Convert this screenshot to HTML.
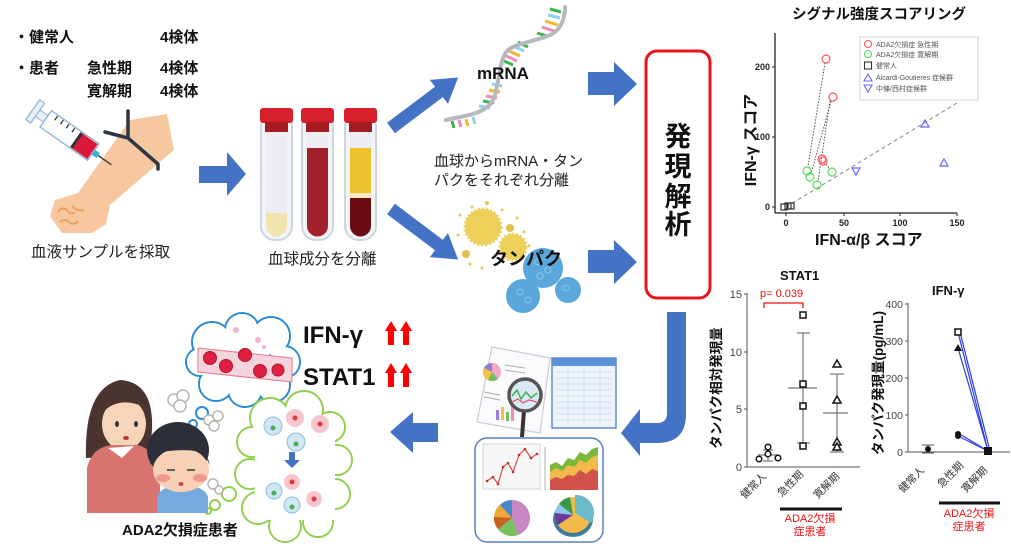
<!DOCTYPE html>
<html><head><meta charset="utf-8">
<style>
html,body{margin:0;padding:0;background:#fff;}
svg{display:block;}
text{font-family:"Liberation Sans","Noto Sans CJK JP",sans-serif;}
.b{font-weight:bold;}
</style></head>
<body>
<svg width="1011" height="549" viewBox="0 0 1011 549" xmlns="http://www.w3.org/2000/svg">
<rect width="1011" height="549" fill="#fff"/>

<!-- top-left text -->
<g class="b" font-size="15" fill="#111" font-weight="bold">
<text x="14" y="42">・健常人</text><text x="160" y="42">4検体</text>
<text x="14" y="73">・患者</text><text x="87" y="73">急性期</text><text x="160" y="73">4検体</text>
<text x="87" y="96">寛解期</text><text x="160" y="96">4検体</text>
</g>

<!-- arm -->
<polygon points="130,120 167,114 174,150 110,205 106,224 92,233 62,233 50,216 55,200 78,193" fill="#f7c7a0"/>
<path d="M58,212 q4,-6 9,-2 q3,6 8,2 M60,222 q5,-4 9,0 q4,4 9,-1 M72,206 q6,6 12,4" stroke="#e9a25e" stroke-width="2" fill="none"/>
<path d="M128,111 V138 M105,132 L128,138 L158,164 V169" stroke="#2d3644" stroke-width="3.5" fill="none" stroke-linecap="round"/>
<!-- syringe -->
<g transform="translate(36,112) rotate(35)">
<rect x="-4" y="-12" width="6" height="24" fill="#e8f0f8" stroke="#8fb3d6" stroke-width="1.2"/>
<rect x="2" y="-4" width="10" height="8" fill="#e8f0f8" stroke="#8fb3d6" stroke-width="1"/>
<rect x="12" y="-10" width="58" height="20" fill="#fbfdff" stroke="#8fb3d6" stroke-width="1.3"/>
<rect x="50" y="-9" width="19" height="18" fill="#d9183a"/>
<rect x="48" y="-9" width="3" height="18" fill="#333"/>
<g stroke="#333" stroke-width="1.3"><line x1="20" y1="-9" x2="20" y2="-4"/><line x1="27" y1="-9" x2="27" y2="-4"/><line x1="34" y1="-9" x2="34" y2="-4"/><line x1="41" y1="-9" x2="41" y2="-4"/></g>
<rect x="70" y="-3" width="6" height="6" fill="#3ab0d8"/>
<line x1="76" y1="0" x2="92" y2="0" stroke="#333" stroke-width="1.3"/>
</g>
<text x="31" y="257" font-size="15.5" fill="#222">血液サンプルを採取</text>

<!-- blue arrows -->
<g fill="#4472c4">
<polygon points="199,166 227,166 227,152 246,174 227,196 227,183 199,183"/>
<polygon points="588,72 614,72 614,62 637,84 614,106 614,95 588,95"/>
<polygon points="588,250 614,250 614,240 637,262 614,284 614,273 588,273"/>
<g transform="translate(391,128) rotate(-37)"><polygon points="0,-6.5 60,-6.5 60,-15 84,0 60,15 60,6.5 0,6.5"/></g>
<g transform="translate(391,209) rotate(37)"><polygon points="0,-6.5 60,-6.5 60,-15 84,0 60,15 60,6.5 0,6.5"/></g>
<polygon points="438,423 413,423 413,412 390,432 413,453 413,442 438,442"/>
<path d="M667,312 H686 V414 Q686,443 657,443 H640 V456 L621,433 L640,409 V423 H657 Q667,423 667,413 Z"/>
</g>

<!-- tubes -->
<g>
<rect x="261" y="112" width="31" height="128" rx="14" fill="#f3f4f8" stroke="#cfd5dc" stroke-width="2"/>
<rect x="266" y="120" width="21" height="116" rx="10" fill="#ececf2"/>
<path d="M266,213 H287 V226 a10.5,10.5 0 0 1 -21,0 Z" fill="#f2e4b0"/>
<rect x="260" y="108" width="33" height="15" rx="3" fill="#d81f2c"/>
<rect x="265" y="122" width="23" height="10" fill="#a51b22"/>

<rect x="302" y="112" width="31" height="128" rx="14" fill="#f3f4f8" stroke="#cfd5dc" stroke-width="2"/>
<rect x="307" y="120" width="21" height="116" rx="10" fill="#ececf2"/>
<path d="M307,148 H328 V226 a10.5,10.5 0 0 1 -21,0 Z" fill="#a3202a"/>
<rect x="301" y="108" width="33" height="15" rx="3" fill="#d81f2c"/>
<rect x="306" y="122" width="23" height="10" fill="#a51b22"/>

<rect x="345" y="112" width="31" height="128" rx="14" fill="#f3f4f8" stroke="#cfd5dc" stroke-width="2"/>
<rect x="350" y="120" width="21" height="116" rx="10" fill="#ececf2"/>
<rect x="350" y="148" width="21" height="45" fill="#ebc22e"/>
<rect x="350" y="193" width="21" height="5" fill="#f7ebc4"/>
<path d="M350,198 H371 V226 a10.5,10.5 0 0 1 -21,0 Z" fill="#6b0c12"/>
<rect x="344" y="108" width="33" height="15" rx="3" fill="#d81f2c"/>
<rect x="349" y="122" width="23" height="10" fill="#a51b22"/>
</g>
<text x="268" y="264" font-size="15.5" fill="#222">血球成分を分離</text>

<!-- mRNA helix -->
<g stroke-width="3" stroke-linecap="butt">
<line x1="550" y1="9" x2="561" y2="12" stroke="#3bb54a"/>
<line x1="548" y1="15" x2="560" y2="18" stroke="#8dd3f0"/>
<line x1="545" y1="21" x2="558" y2="25" stroke="#f5b731"/>
<line x1="542" y1="27" x2="554" y2="31" stroke="#f08cb5"/>
<line x1="537" y1="33" x2="547" y2="36" stroke="#3bb54a"/>
<line x1="518" y1="42" x2="528" y2="47" stroke="#3bb54a"/>
<line x1="513" y1="46" x2="524" y2="51" stroke="#8dd3f0"/>
<line x1="509" y1="51" x2="520" y2="56" stroke="#f5b731"/>
<line x1="506" y1="56" x2="517" y2="61" stroke="#f08cb5"/>
<line x1="504" y1="61" x2="513" y2="65" stroke="#3bb54a"/>
<line x1="492" y1="84" x2="502" y2="86" stroke="#8dd3f0"/>
<line x1="489" y1="90" x2="500" y2="92" stroke="#f5b731"/>
<line x1="486" y1="96" x2="497" y2="98" stroke="#f08cb5"/>
<line x1="483" y1="101" x2="494" y2="103" stroke="#3bb54a"/>
<line x1="479" y1="106" x2="490" y2="108" stroke="#8dd3f0"/>
<line x1="452" y1="121" x2="454" y2="128" stroke="#3bb54a"/>
<line x1="459" y1="120" x2="461" y2="127" stroke="#f08cb5"/>
<line x1="466" y1="119" x2="468" y2="126" stroke="#f5b731"/>
<line x1="473" y1="117" x2="475" y2="124" stroke="#8dd3f0"/>
</g>
<path d="M446,120 C462,116 485,115 493,100 C500,85 498,60 508,50 C518,42 545,40 555,32 C563,25 565,15 565,7" stroke="#b5b8bd" stroke-width="4" fill="none" stroke-linecap="round"/>
<text x="477" y="79" font-size="17" class="b" fill="#111">mRNA</text>
<text x="434" y="166" font-size="15" fill="#222">血球からmRNA・タン</text>
<text x="434" y="185" font-size="15" fill="#222">パクをそれぞれ分離</text>

<!-- protein -->
<g>
<circle cx="483" cy="227" r="18" fill="#ecd05a" stroke="#ecd05a" stroke-width="3" stroke-dasharray="2 2"/>
<circle cx="513" cy="247" r="13" fill="#ecd05a" stroke="#ecd05a" stroke-width="3" stroke-dasharray="2 2"/>
<circle cx="510" cy="228" r="4" fill="#e0c24a"/>
<circle cx="466" cy="254" r="4" fill="#e0c24a"/>
<g fill="#e5c75a"><circle cx="460" cy="215" r="1.5"/><circle cx="472" cy="207" r="1.5"/><circle cx="487" cy="203" r="2"/><circle cx="502" cy="210" r="1.5"/><circle cx="517" cy="218" r="1.5"/><circle cx="524" cy="232" r="1.5"/><circle cx="458" cy="235" r="1.5"/><circle cx="470" cy="264" r="1.5"/><circle cx="482" cy="268" r="1.5"/><circle cx="496" cy="264" r="1.5"/><circle cx="529" cy="246" r="1.5"/></g>
<circle cx="543" cy="268" r="20" fill="#5aa7dc"/>
<circle cx="523" cy="296" r="17" fill="#5aa7dc"/>
<circle cx="568" cy="290" r="13" fill="#5aa7dc"/>
<g fill="none" stroke="#8cc6ea" stroke-width="1"><circle cx="538" cy="262" r="3"/><circle cx="548" cy="270" r="3"/><circle cx="540" cy="276" r="3"/><circle cx="520" cy="292" r="3"/><circle cx="528" cy="300" r="3"/><circle cx="566" cy="288" r="3"/></g>
</g>
<text x="490" y="265" font-size="18" class="b" fill="#111">タンパク</text>

<!-- red box -->
<rect x="646" y="51" width="64" height="247" rx="11" fill="#fff" stroke="#e8141c" stroke-width="3"/>
<g font-size="27" class="b" fill="#111" text-anchor="middle">
<text x="678" y="146">発</text><text x="678" y="176">現</text><text x="678" y="206">解</text><text x="678" y="234">析</text>
</g>

<!-- scatter chart -->
<text x="792" y="19" font-size="14.5" class="b" fill="#111">シグナル強度スコアリング</text>
<g stroke="#222" stroke-width="1.3"><line x1="775" y1="33" x2="775" y2="213"/><line x1="775" y1="213" x2="957" y2="213"/></g>
<g stroke="#222" stroke-width="1"><line x1="772" y1="207" x2="775" y2="207"/><line x1="772" y1="137" x2="775" y2="137"/><line x1="772" y1="67" x2="775" y2="67"/><line x1="786" y1="213" x2="786" y2="216"/><line x1="844" y1="213" x2="844" y2="216"/><line x1="900" y1="213" x2="900" y2="216"/><line x1="957" y1="213" x2="957" y2="216"/></g>
<g font-size="9" fill="#222" class="b" text-anchor="end"><text x="770" y="210">0</text><text x="770" y="140">100</text><text x="770" y="70">200</text></g>
<g font-size="9" fill="#222" class="b" text-anchor="middle"><text x="786" y="226">0</text><text x="844" y="226">50</text><text x="900" y="226">100</text><text x="957" y="226">150</text></g>
<text x="815" y="245" font-size="16" class="b" fill="#111">IFN-α/β スコア</text>
<text transform="translate(756,140) rotate(-90)" text-anchor="middle" font-size="16" class="b" fill="#111">IFN-γ スコア</text>
<line x1="786" y1="207" x2="957" y2="103" stroke="#999" stroke-width="1.2" stroke-dasharray="4 3"/>
<g stroke="#444" stroke-width="0.9" stroke-dasharray="1.5 1.5" fill="none">
<line x1="825" y1="63" x2="808" y2="166"/><line x1="831" y1="101" x2="811" y2="174"/><line x1="830" y1="101" x2="818" y2="182"/><line x1="824" y1="162" x2="830" y2="169"/>
</g>
<g fill="none" stroke-width="1.2">
<circle cx="826" cy="59" r="4" stroke="#f55"/><circle cx="833" cy="97" r="4" stroke="#f55"/><circle cx="822" cy="159" r="4" stroke="#f55"/><circle cx="823" cy="161" r="4" stroke="#f55"/>
<circle cx="807" cy="171" r="4" stroke="#5d5"/><circle cx="810" cy="177" r="4" stroke="#5d5"/><circle cx="817" cy="185" r="4" stroke="#5d5"/><circle cx="832" cy="172" r="4" stroke="#5d5"/>
<rect x="781" y="204" width="6" height="6" stroke="#333"/><rect x="785" y="203" width="6" height="6" stroke="#333"/><rect x="788" y="203" width="6" height="6" stroke="#333"/>
<polygon points="925,120 929,127 921,127" stroke="#66f"/><polygon points="944,159 948,166 940,166" stroke="#66f"/><polygon points="856,175 860,168 852,168" stroke="#66f"/>
</g>
<rect x="860" y="37" width="118" height="63" fill="#fff" stroke="#ccc" stroke-width="0.8"/>
<g fill="none" stroke-width="1.1">
<circle cx="868" cy="44" r="3.5" stroke="#f55"/><circle cx="868" cy="54" r="3.5" stroke="#5d5"/><rect x="864.5" y="62" width="7" height="7" stroke="#333"/>
<polygon points="868,74 872,81 864,81" stroke="#66f"/><polygon points="868,92 872,85 864,85" stroke="#66f"/>
</g>
<g font-size="7" fill="#555"><text x="876" y="47">ADA2欠損症 急性期</text><text x="876" y="57">ADA2欠損症 寛解期</text><text x="876" y="68">健常人</text><text x="876" y="80">Aicardi-Goutieres 症候群</text><text x="876" y="91">中條/西村症候群</text></g>

<!-- STAT1 chart -->
<text x="780" y="280" font-size="13" class="b" fill="#111">STAT1</text>
<g stroke="#555" stroke-width="1"><line x1="747" y1="293" x2="747" y2="467"/><line x1="747" y1="467" x2="860" y2="467"/><line x1="744" y1="294" x2="747" y2="294"/><line x1="744" y1="352" x2="747" y2="352"/><line x1="744" y1="409" x2="747" y2="409"/><line x1="744" y1="467" x2="747" y2="467"/></g>
<g font-size="11" fill="#444" text-anchor="end"><text x="742" y="298">15</text><text x="742" y="356">10</text><text x="742" y="413">5</text><text x="742" y="471">0</text></g>
<text transform="translate(721,388) rotate(-90)" text-anchor="middle" font-size="13.5" class="b" fill="#111">タンパク相対発現量</text>
<text x="760" y="297" font-size="11" fill="#e11">p= 0.039</text>
<path d="M764,308 V303 H803 V308" stroke="#e11" stroke-width="1.3" fill="none"/>
<g stroke="#777" stroke-width="1.2" fill="none">
<line x1="758" y1="455" x2="778" y2="455"/><line x1="768" y1="450" x2="768" y2="461"/><line x1="763" y1="450" x2="773" y2="450"/><line x1="763" y1="461" x2="773" y2="461"/>
<line x1="788" y1="388" x2="817" y2="388"/><line x1="803" y1="333" x2="803" y2="443"/><line x1="797" y1="333" x2="810" y2="333"/><line x1="797" y1="443" x2="810" y2="443"/>
<line x1="823" y1="413" x2="848" y2="413"/><line x1="837" y1="374" x2="837" y2="452"/><line x1="830" y1="374" x2="844" y2="374"/><line x1="830" y1="452" x2="844" y2="452"/>
</g>
<g fill="#fff" stroke="#111" stroke-width="1.5">
<circle cx="759" cy="459" r="2.8"/><circle cx="768" cy="447" r="2.8"/><circle cx="768" cy="454" r="2.8"/><circle cx="778" cy="458" r="2.8"/>
<rect x="800" y="312" width="6" height="6"/><rect x="800" y="381" width="6" height="6"/><rect x="800" y="403" width="6" height="6"/><rect x="800" y="443" width="6" height="6"/>
<polygon points="837,360 841,367 833,367"/><polygon points="837,396 841,403 833,403"/><polygon points="837,438 841,445 833,445"/><polygon points="837,443 841,450 833,450"/>
</g>
<g font-size="10.5" fill="#333" text-anchor="end">
<text transform="translate(767,477) rotate(-45)">健常人</text>
<text transform="translate(804,475) rotate(-45)">急性期</text>
<text transform="translate(840,477) rotate(-45)">寛解期</text>
</g>
<line x1="780" y1="509" x2="842" y2="509" stroke="#111" stroke-width="3"/>
<g font-size="11" fill="#e11" text-anchor="middle"><text x="810" y="522">ADA2欠損</text><text x="810" y="535">症患者</text></g>

<!-- IFN-g chart -->
<text x="932" y="295" font-size="13" class="b" fill="#111">IFN-γ</text>
<g stroke="#555" stroke-width="1"><line x1="908" y1="303" x2="908" y2="452"/><line x1="908" y1="452" x2="1010" y2="452"/><line x1="905" y1="304" x2="908" y2="304"/><line x1="905" y1="341" x2="908" y2="341"/><line x1="905" y1="378" x2="908" y2="378"/><line x1="905" y1="415" x2="908" y2="415"/><line x1="905" y1="452" x2="908" y2="452"/></g>
<g font-size="10.5" fill="#444" text-anchor="end"><text x="903" y="308">400</text><text x="903" y="345">300</text><text x="903" y="382">200</text><text x="903" y="419">100</text><text x="903" y="456">0</text></g>
<text transform="translate(883,383) rotate(-90)" text-anchor="middle" font-size="13.5" class="b" fill="#111">タンパク発現量(pg/mL)</text>
<g stroke="#555" stroke-width="1"><line x1="928" y1="445" x2="928" y2="453"/><line x1="922" y1="445" x2="934" y2="445"/><line x1="922" y1="453" x2="934" y2="453"/></g>
<circle cx="928" cy="449" r="3" fill="#111"/>
<g stroke="#2a3ee0" stroke-width="1.2"><line x1="958" y1="332" x2="988" y2="451"/><line x1="958" y1="348" x2="988" y2="451"/><line x1="958" y1="433" x2="988" y2="451"/><line x1="958" y1="436" x2="988" y2="451"/><line x1="960" y1="332" x2="990" y2="451"/></g>
<rect x="955" y="329" width="6" height="6" fill="#fff" stroke="#111" stroke-width="1.5"/>
<polygon points="958,344 962,351 954,351" fill="#111"/>
<circle cx="958" cy="434" r="3" fill="#111"/><circle cx="958" cy="436" r="3" fill="#111"/>
<rect x="984" y="447" width="8" height="8" fill="#111"/>
<g font-size="10.5" fill="#333" text-anchor="end">
<text transform="translate(925,471) rotate(-45)">健常人</text>
<text transform="translate(964,466) rotate(-45)">急性期</text>
<text transform="translate(988,471) rotate(-45)">寛解期</text>
</g>
<line x1="939" y1="503" x2="1000" y2="503" stroke="#111" stroke-width="3"/>
<g font-size="11" fill="#e11" text-anchor="middle"><text x="969" y="517">ADA2欠損</text><text x="969" y="530">症患者</text></g>

<!-- documents illustration -->
<polygon points="492,347 550,358 540,433 477,422" fill="#fbfbfd" stroke="#c8ccd4" stroke-width="1.2"/>
<g transform="translate(492,372)"><circle r="9" fill="#f2a6c8"/><path d="M0,0 L0,-9 A9,9 0 0 0 -8,-4 Z" fill="#8b7fd0"/><path d="M0,0 L-8,-4 A9,9 0 0 0 -4,8 Z" fill="#f5c242"/><path d="M0,0 L-4,8 A9,9 0 0 0 6,7 Z" fill="#72c05a"/></g>
<g stroke="#aaa" stroke-width="1"><line x1="505" y1="365" x2="525" y2="368"/><line x1="505" y1="370" x2="525" y2="373"/><line x1="484" y1="392" x2="500" y2="395"/><line x1="484" y1="397" x2="500" y2="400"/></g>
<g><rect x="496" y="410" width="3" height="10" fill="#9b7fd6"/><rect x="501" y="407" width="3" height="13" fill="#f5c242"/><rect x="506" y="412" width="3" height="9" fill="#72c05a"/><rect x="511" y="404" width="3" height="17" fill="#f28bb8"/></g>
<rect x="552" y="358" width="64" height="70" fill="#eef4fb" stroke="#5b8fd6" stroke-width="1.5"/>
<rect x="552" y="358" width="64" height="8" fill="#5b8fd6"/>
<g stroke="#c6d6ea" stroke-width="0.8">
<line x1="556" y1="372" x2="612" y2="372"/><line x1="556" y1="378" x2="612" y2="378"/><line x1="556" y1="384" x2="612" y2="384"/><line x1="556" y1="390" x2="612" y2="390"/><line x1="556" y1="396" x2="612" y2="396"/><line x1="556" y1="402" x2="612" y2="402"/><line x1="556" y1="408" x2="612" y2="408"/><line x1="556" y1="414" x2="612" y2="414"/><line x1="556" y1="420" x2="612" y2="420"/>
<line x1="568" y1="368" x2="568" y2="424"/><line x1="584" y1="368" x2="584" y2="424"/><line x1="600" y1="368" x2="600" y2="424"/>
</g>
<line x1="524" y1="410" x2="522" y2="437" stroke="#333" stroke-width="4"/>
<circle cx="525" cy="395" r="16" fill="#dbe9f7" stroke="#555" stroke-width="3.5"/>
<polyline points="512,396 517,390 521,399 526,392 531,398 537,393" stroke="#3bb54a" stroke-width="1.5" fill="none"/>
<polyline points="512,402 518,399 523,403 529,400 537,402" stroke="#e8577a" stroke-width="1.3" fill="none"/>

<rect x="475" y="438" width="128" height="104" rx="12" fill="#fff" stroke="#5b7fbf" stroke-width="1.5"/>
<rect x="483" y="444" width="57" height="45" fill="#f7f7f7" stroke="#ccc" stroke-width="0.8"/>
<polyline points="487,481 493,477 498,484 503,467 508,463 513,472 519,455 525,449 531,458 537,454" stroke="#d0504a" stroke-width="1.2" fill="none"/>
<g fill="#c0302a"><circle cx="487" cy="481" r="1.3"/><circle cx="493" cy="477" r="1.3"/><circle cx="498" cy="484" r="1.3"/><circle cx="503" cy="467" r="1.3"/><circle cx="508" cy="463" r="1.3"/><circle cx="513" cy="472" r="1.3"/><circle cx="519" cy="455" r="1.3"/><circle cx="525" cy="449" r="1.3"/><circle cx="531" cy="458" r="1.3"/><circle cx="537" cy="454" r="1.3"/></g>
<line x1="545" y1="447" x2="545" y2="490" stroke="#999" stroke-width="0.8"/>
<polygon points="550,465 556,462 562,466 568,458 574,460 580,452 586,455 592,449 598,447 598,490 550,490" fill="#7bb83a"/>
<polygon points="550,472 556,468 562,471 568,465 574,467 580,460 586,463 592,457 598,455 598,490 550,490" fill="#f3b94a"/>
<polygon points="550,480 556,477 562,479 568,475 574,476 580,470 586,474 592,469 598,471 598,490 550,490" fill="#d0524a"/>
<g transform="translate(512,518)"><circle r="18" fill="#c787c4"/><path d="M0,0 L0,-18 A18,18 0 0 0 -12,-13 Z" fill="#4a8ac4"/><path d="M0,0 L-12,-13 A18,18 0 0 0 -18,-1 Z" fill="#f0a83a"/><path d="M0,0 L-18,-1 A18,18 0 0 0 -14,11 Z" fill="#c8601e"/><path d="M0,0 L-14,11 A18,18 0 0 0 6,17 Z" fill="#78c060"/></g>
<g transform="translate(573,515)"><ellipse cx="0" cy="4" rx="20" ry="18" fill="#3f7c9a"/><circle r="18" fill="#f3b94a"/><path d="M2,-2 L2,-20 A18,18 0 0 1 18,8 Z" fill="#6bbcc8"/><path d="M0,0 L-3,-18 A18,18 0 0 0 -14,-11 Z" fill="#3a9a48"/><path d="M0,0 L-14,-11 A18,18 0 0 0 -18,-2 Z" fill="#8ec7ee"/><path d="M0,0 L-18,-2 A18,18 0 0 0 -15,10 Z" fill="#6a3c9a"/></g>

<!-- bottom-left texts -->
<text x="303" y="343" font-size="24" class="b" fill="#111">IFN-γ</text>
<text x="303" y="385" font-size="24" class="b" fill="#111">STAT1</text>
<g fill="#f00">
<polygon points="385,331 391,321 397,331 394,331 394,345 388,345 388,331"/>
<polygon points="400,331 406,321 412,331 409,331 409,345 403,345 403,331"/>
<polygon points="385,373 391,363 397,373 394,373 394,387 388,387 388,373"/>
<polygon points="400,373 406,363 412,373 409,373 409,387 403,387 403,373"/>
</g>

<!-- blue thought cloud -->
<g fill="none" stroke="#2a8ad6" stroke-width="2">
<circle cx="212" cy="342" r="20"/><circle cx="242" cy="330" r="17"/><circle cx="271" cy="336" r="19"/><circle cx="284" cy="362" r="16"/><circle cx="273" cy="385" r="17"/><circle cx="245" cy="390" r="17"/><circle cx="216" cy="384" r="17"/><circle cx="200" cy="362" r="14"/>
<circle cx="202" cy="413" r="6"/><circle cx="193" cy="424" r="4"/><circle cx="188" cy="431" r="2.5"/>
</g>
<g fill="#fff">
<circle cx="212" cy="342" r="19"/><circle cx="242" cy="330" r="16"/><circle cx="271" cy="336" r="18"/><circle cx="284" cy="362" r="15"/><circle cx="273" cy="385" r="16"/><circle cx="245" cy="390" r="16"/><circle cx="216" cy="384" r="16"/><circle cx="200" cy="362" r="13"/><circle cx="242" cy="360" r="28"/>
</g>
<polygon points="198,348 292,358 292,382 198,372" fill="#f6d4de" stroke="#e07a90" stroke-width="1"/>
<g fill="#e02040" stroke="#b01530" stroke-width="1"><circle cx="210" cy="358" r="6.5"/><circle cx="226" cy="366" r="6.5"/><circle cx="245" cy="355" r="6.5"/><circle cx="260" cy="371" r="6.5"/><circle cx="278" cy="370" r="6"/></g>
<g fill="#f3b5c8"><circle cx="236" cy="330" r="3"/><circle cx="258" cy="340" r="3"/><circle cx="264" cy="347" r="2"/></g>

<!-- green cloud -->
<g fill="none" stroke="#8fd14f" stroke-width="2">
<circle cx="270" cy="418" r="20"/><circle cx="304" cy="410" r="19"/><circle cx="330" cy="427" r="15"/><circle cx="337" cy="460" r="15"/><circle cx="335" cy="494" r="15"/><circle cx="318" cy="522" r="15"/><circle cx="285" cy="526" r="16"/><circle cx="258" cy="508" r="16"/><circle cx="250" cy="474" r="15"/><circle cx="252" cy="442" r="15"/>
<circle cx="229" cy="494" r="7"/><circle cx="215" cy="505" r="5"/><circle cx="208" cy="511" r="3"/>
</g>
<g fill="#fff">
<circle cx="270" cy="418" r="19"/><circle cx="304" cy="410" r="18"/><circle cx="330" cy="427" r="14"/><circle cx="337" cy="460" r="14"/><circle cx="335" cy="494" r="14"/><circle cx="318" cy="522" r="14"/><circle cx="285" cy="526" r="15"/><circle cx="258" cy="508" r="15"/><circle cx="250" cy="474" r="14"/><circle cx="252" cy="442" r="14"/><rect x="255" y="420" width="80" height="100"/>
</g>
<g>
<circle cx="273" cy="426" r="9" fill="#cfe6f5" stroke="#8cc0e0"/><circle cx="273" cy="428" r="2.5" fill="#4caf50"/>
<circle cx="296" cy="442" r="9" fill="#cfe6f5" stroke="#8cc0e0"/><circle cx="296" cy="444" r="2.5" fill="#4caf50"/>
<circle cx="295" cy="418" r="9" fill="#f7c6cc"/><circle cx="295" cy="418" r="2.5" fill="#e53935"/>
<circle cx="320" cy="424" r="9" fill="#f7c6cc"/><circle cx="320" cy="424" r="2.5" fill="#e53935"/>
<polygon points="289,452 295,452 295,460 300,460 292,468 284,460 289,460" fill="#4472c4"/>
<circle cx="292" cy="482" r="8" fill="#f7c6cc"/><circle cx="292" cy="482" r="2.5" fill="#e53935"/>
<circle cx="314" cy="499" r="8" fill="#f7c6cc"/><circle cx="314" cy="499" r="2.5" fill="#e53935"/>
<circle cx="274" cy="491" r="8" fill="#cfe6f5" stroke="#8cc0e0"/><circle cx="274" cy="493" r="2.5" fill="#4caf50"/>
<circle cx="292" cy="505" r="8" fill="#cfe6f5" stroke="#8cc0e0"/><circle cx="292" cy="507" r="2.5" fill="#4caf50"/>
</g>

<!-- grey puffs -->
<g fill="#fff" stroke="#b9b4ae" stroke-width="1.5">
<circle cx="174" cy="400" r="6"/><circle cx="183" cy="396" r="6"/><circle cx="180" cy="406" r="6"/>
<circle cx="209" cy="420" r="5"/><circle cx="218" cy="416" r="5"/><circle cx="214" cy="426" r="5"/>
<circle cx="213" cy="484" r="5"/><circle cx="219" cy="490" r="4"/>
</g>

<!-- mother -->
<path d="M86,458 Q84,388 120,380 Q154,382 152,430 L150,455 Z" fill="#4a3430"/>
<ellipse cx="124" cy="424" rx="22" ry="26" fill="#f8d5b8"/>
<path d="M103,412 Q120,395 146,408 L146,396 Q125,385 102,400 Z" fill="#4a3430"/>
<path d="M87,513 L87,468 Q92,447 112,445 L138,445 Q155,450 160,470 L160,513 Z" fill="#d8736d"/>
<path d="M108,448 L122,458 L134,446 Z" fill="#fff"/>
<path d="M118,474 Q140,465 165,448" stroke="#d8736d" stroke-width="12" fill="none" stroke-linecap="round"/>
<ellipse cx="163" cy="449" rx="7" ry="5" fill="#f8d5b8"/>
<g fill="#333"><ellipse cx="117" cy="424" rx="2" ry="3"/><ellipse cx="136" cy="424" rx="2" ry="3"/></g>
<ellipse cx="126" cy="438" rx="3" ry="2" fill="#b33"/>

<!-- child -->
<ellipse cx="178" cy="450" rx="31" ry="28" fill="#2d2f38"/>
<path d="M157,513 L157,497 Q160,486 182,485 Q205,486 208,497 L208,513 Z" fill="#74aadf"/>
<ellipse cx="181" cy="470" rx="28" ry="22" fill="#f8d0b5"/>
<path d="M150,465 Q158,440 180,438 Q205,442 210,466 L205,455 Q195,447 160,452 Z" fill="#2d2f38"/>
<g fill="#f08080" opacity="0.7"><ellipse cx="163" cy="478" rx="7" ry="4"/><ellipse cx="200" cy="478" rx="7" ry="4"/></g>
<g stroke="#333" stroke-width="1.5"><line x1="167" y1="470" x2="175" y2="470"/><line x1="187" y1="470" x2="195" y2="470"/></g>
<ellipse cx="181" cy="484" rx="2.5" ry="2" fill="#c44"/>
<text x="122" y="535" font-size="15" class="b" fill="#111">ADA2欠損症患者</text>

</svg>
</body></html>
